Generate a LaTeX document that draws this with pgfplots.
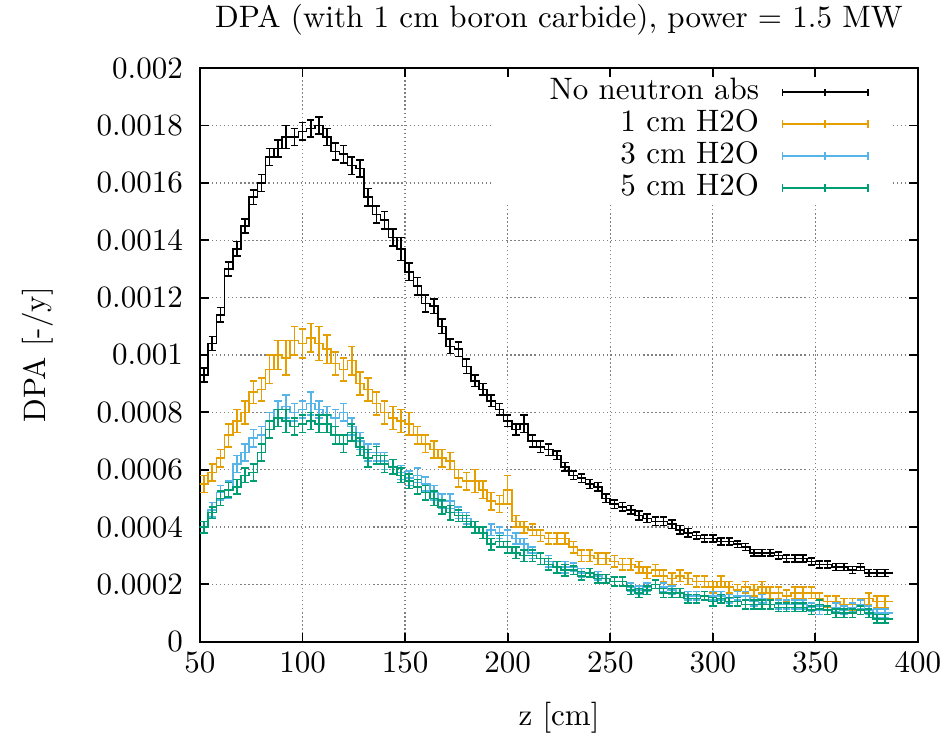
\documentclass[border=0pt]{standalone}
\usepackage{pgfplots}
\usepackage{pgfplotstable}
\pgfplotsset{compat=1.18}

\definecolor{gpOrange}{HTML}{E69F00}
\definecolor{gpBlue}{HTML}{56B4E9}
\definecolor{gpGreen}{HTML}{009E73}

\pgfplotsset{
  hist/.style={color=#1, line width=0.5pt, mark=none, const plot mark mid,
    error bars/.cd, y dir=both, y explicit,
    error bar style={line width=0.5pt},
    error mark options={rotate=90, mark size=1.2pt, line width=0.5pt}},
}

% z: bin centre [cm]; B = no neutron abs, O = 1 cm H2O, L = 3 cm H2O, G = 5 cm H2O
\pgfplotstableread{
z   B       eB       O       eO      L       eL       G       eG
50  0.00093 0        0.00055 0       0.00040 0        0.00040 0
52  0.00093 0.000025 0.00055 0.00003 0.00040 0.00002  0.00040 0.00002
56  0.00104 0.000025 0.00059 0.00003 0.00046 0.000025 0.00045 0.00002
60  0.00114 0.000025 0.00064 0.00003 0.00052 0.000025 0.00050 0.000025
64  0.00130 0.000025 0.00072 0.00004 0.00053 0.00003  0.00053 0.000025
68  0.00137 0.000025 0.00077 0.00004 0.00062 0.00003  0.00054 0.000025
72  0.00145 0.000025 0.00080 0.00004 0.00066 0.00003  0.00058 0.000025
76  0.00155 0.000025 0.00087 0.00004 0.00071 0.00003  0.00059 0.00003
80  0.00160 0.00003  0.00088 0.00004 0.00072 0.00003  0.00066 0.00003
84  0.00169 0.00003  0.00095 0.00005 0.00077 0.00003  0.00074 0.00003
88  0.00172 0.00003  0.00100 0.00005 0.00081 0.00003  0.00078 0.00003
92  0.00176 0.00004  0.00099 0.00006 0.00082 0.00004  0.00077 0.00004
96  0.00176 0.00003  0.00105 0.00005 0.00080 0.00003  0.00075 0.00003
100 0.00178 0.00003  0.00104 0.00005 0.00081 0.00003  0.00076 0.00003
104 0.00179 0.00003  0.00106 0.00005 0.00083 0.00004  0.00077 0.00003
108 0.00180 0.00003  0.00104 0.00006 0.00081 0.00003  0.00076 0.00003
112 0.00176 0.00003  0.00102 0.00005 0.00079 0.00003  0.00076 0.00003
116 0.00171 0.00003  0.00097 0.00004 0.00078 0.00003  0.00072 0.00003
120 0.00170 0.00003  0.00095 0.00004 0.00080 0.00003  0.00069 0.00003
124 0.00166 0.00003  0.00098 0.00005 0.00075 0.00003  0.00073 0.00003
128 0.00165 0.00003  0.00090 0.00004 0.00070 0.00003  0.00068 0.00003
132 0.00155 0.00003  0.00088 0.00004 0.00066 0.00003  0.00064 0.00003
136 0.00149 0.00003  0.00083 0.00004 0.00066 0.00003  0.00065 0.00003
140 0.00147 0.00003  0.00080 0.00004 0.00063 0.00003  0.00062 0.00003
144 0.00141 0.00003  0.00078 0.00004 0.00061 0.000025 0.00061 0.000025
148 0.00137 0.00004  0.00077 0.00004 0.00059 0.000025 0.00058 0.000025
152 0.00129 0.00003  0.00076 0.00004 0.00057 0.000025 0.00056 0.000025
156 0.00124 0.00003  0.00072 0.00003 0.00058 0.000025 0.00054 0.000025
160 0.00118 0.00003  0.00069 0.00003 0.00055 0.000025 0.00052 0.000025
164 0.00117 0.000025 0.00067 0.00003 0.00052 0.000025 0.00050 0.000025
168 0.00110 0.000025 0.00064 0.00003 0.00049 0.000025 0.00047 0.000025
172 0.00103 0.000025 0.00063 0.00003 0.00049 0.000025 0.00045 0.000025
176 0.00102 0.000025 0.00057 0.00003 0.00045 0.00002  0.00044 0.00002
180 0.00096 0.000025 0.00056 0.00003 0.00043 0.00002  0.00042 0.00002
184 0.00091 0.00002  0.00056 0.00004 0.00040 0.00002  0.00040 0.00002
188 0.00088 0.00002  0.00053 0.00003 0.00038 0.00002  0.00038 0.00002
192 0.00084 0.00002  0.00049 0.00003 0.00039 0.00002  0.00034 0.00002
196 0.00081 0.00002  0.00048 0.00003 0.00038 0.00002  0.00035 0.00002
200 0.00077 0.00002  0.00053 0.00005 0.00037 0.00002  0.00033 0.00002
204 0.00074 0.00002  0.00042 0.00002 0.00036 0.00002  0.00031 0.00002
208 0.00076 0.00003  0.00040 0.00002 0.00034 0.00002  0.00030 0.00002
212 0.00070 0.00002  0.00039 0.00002 0.00031 0.00002  0.00030 0.00002
216 0.00068 0.00002  0.00037 0.00002 0.00029 0.00002  0.00029 0.00002
220 0.00067 0.00002  0.00036 0.00002 0.00028 0.00002  0.00027 0.00002
224 0.00065 0.000015 0.00036 0.00002 0.00026 0.00002  0.00026 0.00002
228 0.00061 0.000015 0.00036 0.00002 0.00026 0.00002  0.00025 0.00002
232 0.00058 0.000015 0.00033 0.00002 0.00026 0.000015 0.00025 0.000015
236 0.00057 0.000015 0.00030 0.00002 0.00024 0.000015 0.00023 0.000015
240 0.00055 0.000015 0.00030 0.00002 0.00024 0.000015 0.00024 0.000015
244 0.00054 0.000015 0.00029 0.00002 0.00023 0.000015 0.00022 0.000015
248 0.00050 0.000015 0.00029 0.00002 0.00022 0.000015 0.00022 0.000015
252 0.00048 0.000015 0.00028 0.00002 0.00021 0.000015 0.00021 0.000015
256 0.00047 0.000015 0.00027 0.00002 0.00021 0.000015 0.00021 0.000015
260 0.00046 0.000015 0.00027 0.00002 0.00019 0.000015 0.00018 0.000015
264 0.00044 0.000015 0.00026 0.00002 0.00018 0.000015 0.00017 0.000015
268 0.00043 0.000015 0.00024 0.00002 0.00019 0.000015 0.00018 0.000015
272 0.00042 0.000015 0.00025 0.00002 0.00020 0.000015 0.00020 0.000015
276 0.00042 0.000015 0.00023 0.00002 0.00019 0.000015 0.00017 0.000015
280 0.00041 0.000015 0.00022 0.00002 0.00018 0.000015 0.00017 0.000015
284 0.00039 0.000015 0.00023 0.00002 0.00017 0.000015 0.00017 0.000015
288 0.00038 0.000015 0.00022 0.00002 0.00016 0.000015 0.00015 0.000015
292 0.00037 0.000012 0.00021 0.00002 0.00016 0.000015 0.00015 0.000015
296 0.00036 0.000012 0.00021 0.00002 0.00016 0.000015 0.00016 0.000015
300 0.00036 0.000012 0.00019 0.00002 0.00016 0.000015 0.00014 0.000015
304 0.00035 0.000012 0.00021 0.00002 0.00016 0.000015 0.00015 0.000015
308 0.00035 0.000012 0.00019 0.00002 0.00015 0.000015 0.00014 0.000015
312 0.00034 0.000012 0.00018 0.00002 0.00016 0.000015 0.00014 0.000015
316 0.00033 0.000012 0.00019 0.00002 0.00016 0.000015 0.00013 0.000015
320 0.00031 0.000012 0.00018 0.00002 0.00014 0.000015 0.00013 0.000015
324 0.00031 0.000012 0.00019 0.00002 0.00015 0.000015 0.00013 0.000015
328 0.00031 0.000012 0.00017 0.00002 0.00013 0.000015 0.00013 0.000015
332 0.00030 0.000012 0.00017 0.00002 0.00013 0.000015 0.00012 0.000015
336 0.00029 0.000012 0.00016 0.00002 0.00013 0.000015 0.00012 0.000015
340 0.00029 0.000012 0.00017 0.00002 0.00013 0.000015 0.00012 0.000015
344 0.00029 0.000012 0.00017 0.00002 0.00013 0.000015 0.00012 0.000015
348 0.00028 0.000012 0.00017 0.00002 0.00012 0.000015 0.00011 0.000015
352 0.00027 0.000012 0.00015 0.00002 0.00011 0.000015 0.00013 0.000015
356 0.00027 0.000012 0.00014 0.00002 0.00011 0.000015 0.00011 0.000015
360 0.00026 0.000012 0.00014 0.00002 0.00012 0.000015 0.00010 0.000015
364 0.00026 0.000012 0.00013 0.00002 0.00011 0.000015 0.00010 0.000015
368 0.00025 0.000012 0.00013 0.00002 0.00012 0.000015 0.00010 0.000015
372 0.00026 0.000012 0.00013 0.00002 0.00013 0.000015 0.00011 0.000015
376 0.00024 0.000012 0.00015 0.00002 0.00011 0.000015 0.00010 0.000015
380 0.00024 0.000012 0.00014 0.00002 0.00010 0.000015 0.00008 0.000015
384 0.00024 0.000012 0.00014 0.00002 0.00010 0.000015 0.00008 0.000015
386 0.00024 0        0.00014 0       0.00010 0        0.00008 0
}\dpa

\begin{document}
\begin{tikzpicture}
\useasboundingbox (-64.5pt,-30pt) rectangle (240pt,207pt);
\begin{axis}[
    scale only axis,
    width=231.6pt,
    height=185pt,
    xmin=50, xmax=400,
    ymin=0, ymax=0.002,
    xtick={50,100,150,200,250,300,350,400},
    ytick={0,0.0002,0.0004,0.0006,0.0008,0.001,0.0012,0.0014,0.0016,0.0018,0.002},
    scaled y ticks=false,
    yticklabel style={/pgf/number format/fixed, /pgf/number format/precision=4, xshift=-2pt},
    major tick length=2.8pt,
    every tick/.style={black, line width=0.6pt},
    axis line style={line width=0.6pt},
    grid=major,
    major grid style={gray, line width=0.4pt, dash pattern=on 0.4pt off 0.9pt},
    title={DPA (with 1 cm boron carbide), power = 1.5 MW},
    title style={at={(axis description cs:0.5,1.085)}, anchor=center, yshift=-6pt},
    xlabel={z [cm]},
    xlabel style={at={(axis description cs:0.5,-0.1324)}, anchor=center},
    ylabel={DPA [-/y]},
    ylabel style={at={(axis description cs:-0.2256,0.5)}, anchor=center},
    legend plot pos=right,
    legend cell align=right,
    legend style={draw=none, fill=none, at={(rel axis cs:0.932,0.987)}, anchor=north east,
      inner sep=0pt, column sep=6.8pt, row sep=0pt,
      nodes={inner sep=0.5pt, text height=7pt, text depth=2.3pt}},
    legend image code/.code={
      \draw[#1, line width=0.5pt] (0pt,0pt) -- (27.5pt,0pt)
        (0pt,-1.2pt) -- (0pt,1.2pt)
        (13.75pt,-1.2pt) -- (13.75pt,1.2pt)
        (27.5pt,-1.2pt) -- (27.5pt,1.2pt);
    },
]
\fill[white] (rel axis cs:0.408,0.765) rectangle (rel axis cs:0.961,0.984);
\addplot[hist=black] table[x=z, y=B, y error=eB] {\dpa};
\addlegendentry{No neutron abs}
\addplot[hist=gpOrange] table[x=z, y=O, y error=eO] {\dpa};
\addlegendentry{1 cm H2O}
\addplot[hist=gpBlue] table[x=z, y=L, y error=eL] {\dpa};
\addlegendentry{3 cm H2O}
\addplot[hist=gpGreen] table[x=z, y=G, y error=eG] {\dpa};
\addlegendentry{5 cm H2O}
\end{axis}
\end{tikzpicture}
\end{document}
